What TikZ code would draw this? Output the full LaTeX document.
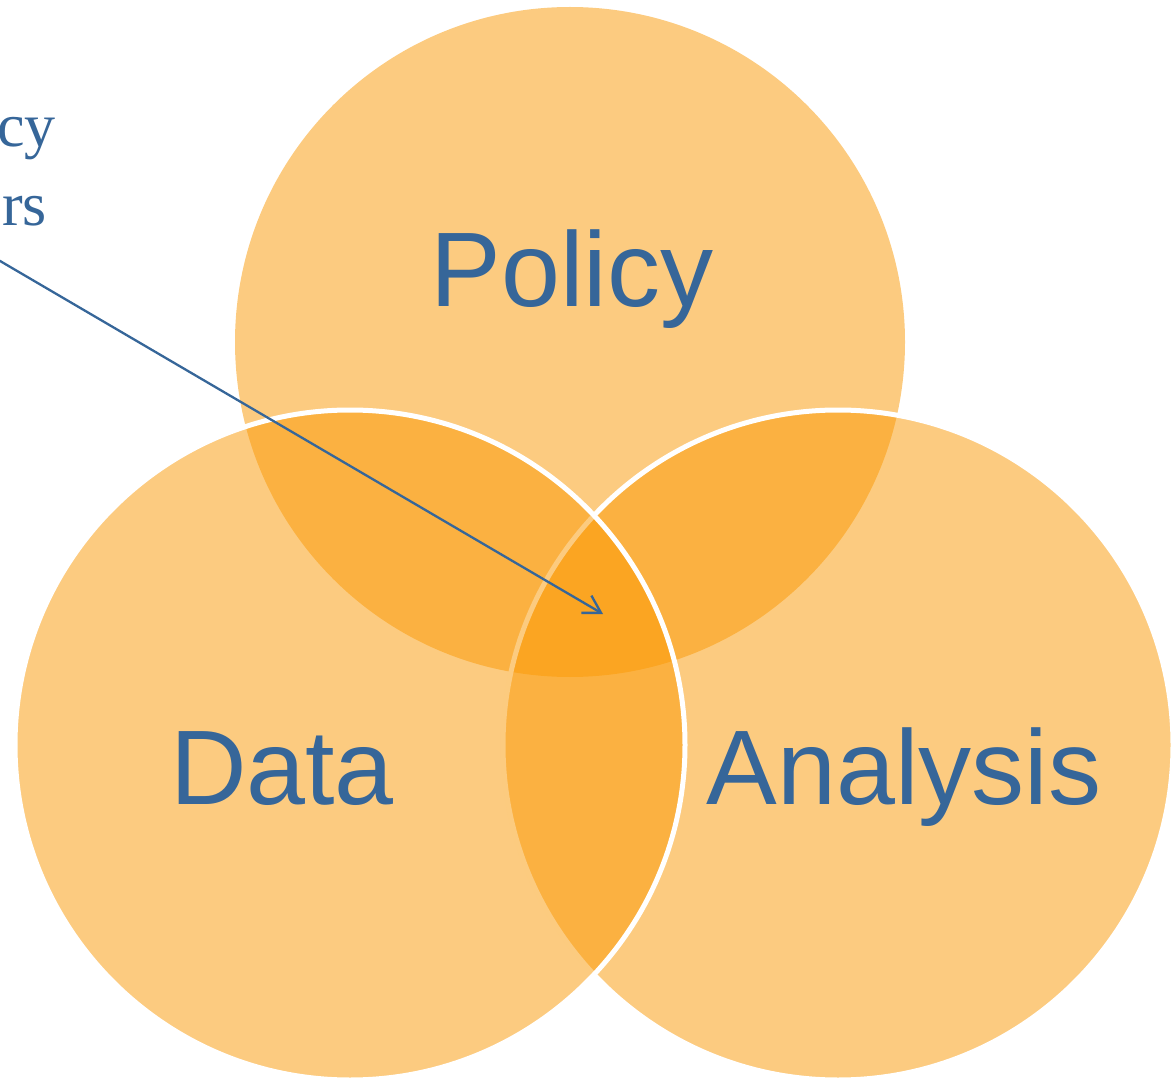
\documentclass[tikz,border=0pt]{standalone}
\usepackage{fontspec}
\setmainfont{Liberation Serif}
\newfontfamily\vennfont{Liberation Sans}
\usepackage{tikz}
\usetikzlibrary{arrows.meta}
\definecolor{vennorange}{RGB}{250,153,5}
\definecolor{vennblue}{RGB}{54,102,153}

\begin{document}
\begin{tikzpicture}[x=1pt,y=-1pt]
\tikzstyle{set}=[circle,fill=vennorange,fill opacity=0.51,minimum size=670pt,inner sep=0pt]
\tikzstyle{setname}=[text=vennblue,font=\vennfont\fontsize{106}{120}\selectfont,inner sep=0pt,anchor=base]
\tikzstyle{note}=[text=vennblue,font=\fontsize{62}{74}\selectfont,inner sep=0pt,anchor=base east]
\useasboundingbox (0,0) rectangle (1173,1083);
\foreach \name/\point/\edge in {
	policy/{570,342}/none,
	analysis/{838,745}/white,
	data/{350,745}/white}
	\node[set,draw=\edge,line width=5pt] (\name) at (\point) {};
% labels
\node[setname] (policylabel) at (572,307) {Policy};
\node[setname] (datalabel) at (282,804) {Data};
\node[setname] (analysislabel) at (904,804) {Analysis};
\node[note] (note1) at (56,147) {cy};
\node[note] (note2) at (47,226) {rs};
% pointer into the middle
\coordinate (tail) at (-10,255.1);
\coordinate (tip) at (603,614);
\draw[vennblue,line width=2.3pt,-{Straight Barb[length=17pt,width=20pt]}] (tail) -- (tip);
\end{tikzpicture}
\end{document}
